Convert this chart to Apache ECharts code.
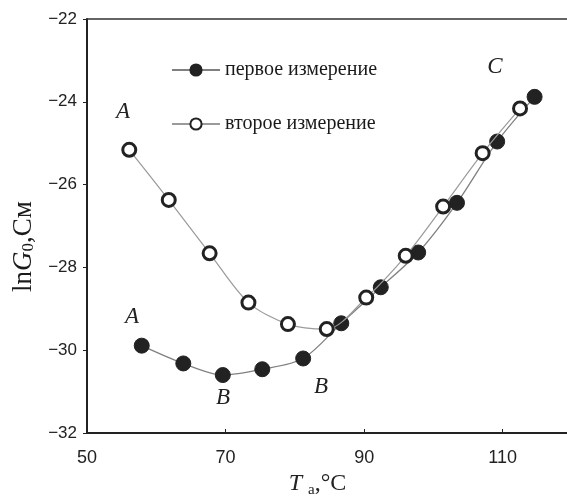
<!DOCTYPE html>
<html>
<head>
<meta charset="utf-8">
<script src="https://cdn.jsdelivr.net/npm/echarts@6/dist/echarts.min.js"></script>
<style>
  html, body { margin: 0; padding: 0; background: #fff; }
  #chart { width: 567px; height: 499px; }
</style>
</head>
<body>
<div id="chart"></div>
<script>
// первое измерение (filled)
const firstT = [57.9, 63.9, 69.6, 75.3, 81.2, 86.7, 92.4, 97.8, 103.4, 109.2, 114.6]
const firstG = [-29.89, -30.32, -30.6, -30.46, -30.2, -29.35, -28.48, -27.64, -26.44, -24.96, -23.88]
// второе измерение (open)
const secondT = [56.1, 61.8, 67.7, 73.3, 79.0, 84.6, 90.3, 96.0, 101.4, 107.1, 112.5]
const secondG = [-25.16, -26.37, -27.66, -28.85, -29.37, -29.49, -28.73, -27.72, -26.53, -25.24, -24.16]
const xTicks = [50, 70, 90, 110]

const serif = '"Liberation Serif", "DejaVu Serif", serif'
const sans = '"Liberation Sans", Arial, sans-serif'

function zip(xs, ys) {
  return xs.map((x, i) => [x, ys[i]])
}

function letter(t, x, y) {
  return {
    type: 'text', x: x, y: y,
    style: { text: t, font: 'italic 23px ' + serif, fill: '#222', align: 'center', verticalAlign: 'middle' }
  }
}

const chart = echarts.init(document.getElementById('chart'))

chart.setOption({
  backgroundColor: '#fff',
  animation: false,
  grid: { left: 87, right: -5, top: 19, bottom: 66, outerBoundsMode: 'none' },
  legend: {
    orient: 'vertical',
    left: 166,
    top: 55,
    itemWidth: 48,
    itemHeight: 14,
    itemGap: 34,
    textStyle: { fontFamily: serif, fontSize: 20, color: '#1a1a1a' },
    data: ['первое измерение', 'второе измерение']
  },
  xAxis: [
    {
      type: 'value',
      min: 50,
      max: 120,
      axisLine: { lineStyle: { color: '#222', width: 2 } },
      axisTick: { show: true, inside: true, length: 4, customValues: xTicks, lineStyle: { color: '#222' } },
      axisLabel: { customValues: xTicks, color: '#222', fontFamily: sans, fontSize: 18, margin: 16 },
      splitLine: { show: false },
      name: '{i|T} {s|а},{n|°C}',
      nameLocation: 'middle',
      nameGap: 33,
      nameTextStyle: {
        fontFamily: serif, fontSize: 24, color: '#222',
        padding: [0, 24, 0, 0],
        rich: {
          i: { fontFamily: serif, fontStyle: 'italic', fontSize: 24, color: '#222' },
          s: { fontFamily: serif, fontSize: 15, color: '#222', verticalAlign: 'bottom', padding: [12, 0, 0, 0] },
          n: { fontFamily: serif, fontSize: 24, color: '#222' }
        }
      }
    },
    {
      type: 'value',
      position: 'top',
      min: 50,
      max: 120,
      axisLine: { show: true, lineStyle: { color: '#333', width: 1.5 } },
      axisTick: { show: false },
      axisLabel: { show: false },
      splitLine: { show: false }
    }
  ],
  yAxis: {
    type: 'value',
    min: -32,
    max: -22,
    interval: 2,
    axisLine: { show: true, lineStyle: { color: '#222', width: 2 } },
    axisTick: { show: true, length: 4, lineStyle: { color: '#222' } },
    axisLabel: {
      color: '#222', fontFamily: sans, fontSize: 17, margin: 10,
      formatter: v => String(v).replace('-', '−')
    },
    splitLine: { show: false },
    name: 'ln{i|G}{s|0},См',
    nameLocation: 'middle',
    nameRotate: 90,
    nameGap: 48,
    nameTextStyle: {
      fontFamily: serif, fontSize: 27, color: '#1a1a1a',
      padding: [0, 41, 0, 0],
      rich: {
        i: { fontFamily: serif, fontStyle: 'italic', fontSize: 27, color: '#1a1a1a' },
        s: { fontFamily: serif, fontSize: 17, color: '#1a1a1a', verticalAlign: 'bottom', padding: [10, 0, 0, 0] }
      }
    }
  },
  series: [
    {
      name: 'первое измерение',
      type: 'line',
      smooth: 0.3,
      data: zip(firstT, firstG),
      symbol: 'circle',
      symbolSize: 15,
      itemStyle: { color: '#222', borderColor: '#222', borderWidth: 1 },
      lineStyle: { color: '#808080', width: 1.3 },
      z: 3
    },
    {
      name: 'второе измерение',
      type: 'line',
      smooth: 0.3,
      data: zip(secondT, secondG),
      symbol: 'circle',
      symbolSize: 13,
      itemStyle: { color: '#fff', borderColor: '#222', borderWidth: 3 },
      lineStyle: { color: '#9a9a9a', width: 1.2 },
      z: 4
    }
  ],
  graphic: [
    letter('A', 123, 112),
    letter('A', 132, 317),
    letter('B', 223, 398),
    letter('B', 321, 387),
    letter('C', 495, 67)
  ]
})
</script>
</body>
</html>
